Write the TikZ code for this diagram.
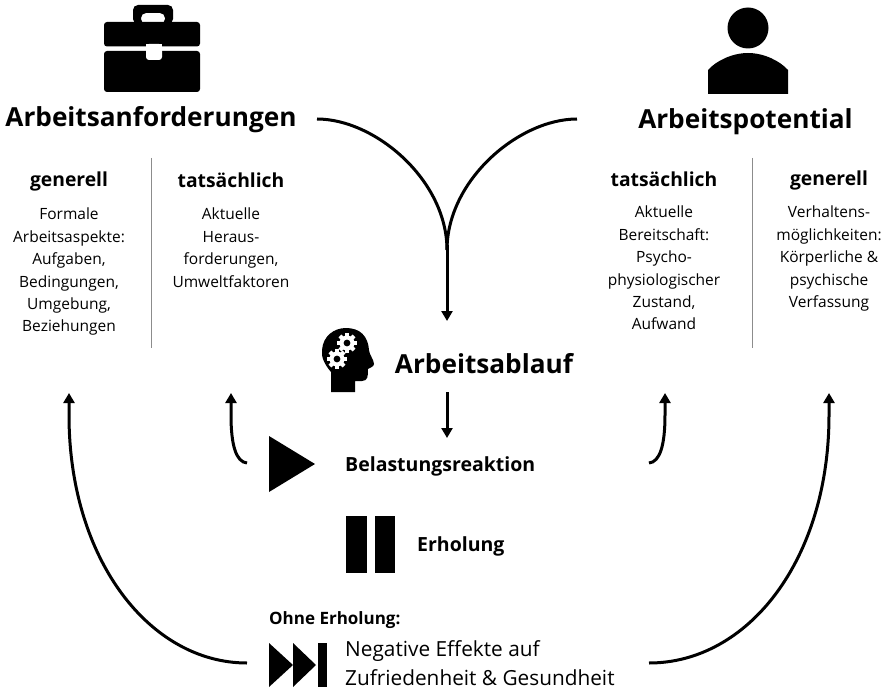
\documentclass[tikz,border=0pt]{standalone}
\usepackage{fontspec}
\setmainfont{Open Sans}
\usetikzlibrary{arrows.meta}
\tikzset{
 title/.style={font=\fontsize{26.2}{30}\selectfont\bfseries,inner sep=0pt,anchor=center},
 sub/.style={font=\fontsize{19.3}{22}\selectfont\bfseries,inner sep=0pt,anchor=center},
 stage/.style={font=\fontsize{19.5}{22}\selectfont\bfseries,inner sep=0pt,anchor=west},
 body/.style={font=\fontsize{15.5}{22.4}\selectfont,align=center,inner sep=0pt,anchor=north},
 wire/.style={line width=3pt},
 conn/.style={line width=3pt,-{Triangle[length=10pt,width=11pt]}},
 sep/.style={draw=black!45,line width=0.8pt},
 icon/.style={fill=black,draw=none}
}
\begin{document}
\begin{tikzpicture}[x=1pt,y=-1pt]
\useasboundingbox (0,0) rectangle (892,690);
% briefcase
\fill[icon,even odd rule,rounded corners=5pt] (133,24) -- (133,5) -- (173,5) -- (173,24) -- cycle (141,13) -- (141,24) -- (165,24) -- (165,13) -- cycle;
\fill[icon,rounded corners=3pt] (104,22) rectangle (200,46.5);
\fill[icon,rounded corners=3pt] (104,51) rectangle (200,92);
\fill[white,rounded corners=3pt] (146,44) rectangle (162,60);
\fill[white] (146,44) rectangle (162,50);
% person
\fill[icon] (748,28) circle (20.5);
\fill[icon] (708,94) -- (708,70) .. controls (716,61) and (732,53) .. (748,53) .. controls (764,53) and (780,61) .. (788,70) -- (788,94) -- cycle;
% head
\fill[icon] (331,392) -- (331,372) .. controls (324,364) and (321,356) .. (322,350) .. controls (323,336) and (334,328) .. (346,328) .. controls (360,328) and (368,336) .. (369,350) .. controls (369,354) and (374,360) .. (374,364) .. controls (374,367) and (369,368) .. (368,369) .. controls (368,376) and (368,381) .. (362,381) -- (355,381) -- (355,392) -- cycle;
\foreach \cx/\cy/\r in {347/343/7.5,337/359/7.5}{
  \fill[white] (\cx,\cy) circle (\r);
  \foreach \a in {0,45,...,315}
    \fill[white,rotate around={\a:(\cx,\cy)}] (\cx-2,\cy-10) rectangle (\cx+2,\cy-6);
  \fill[icon] (\cx,\cy) circle (3.4);
}
% play, pause, forward
\fill[icon] (269,436) -- (315,464) -- (269,492) -- cycle;
\fill[icon] (346,516) rectangle (367,573);
\fill[icon] (375,516) rectangle (395,573);
\fill[icon] (269,643) -- (293,665) -- (269,687) -- cycle;
\fill[icon] (293,643) -- (316,665) -- (293,687) -- cycle;
\fill[icon] (318,643) rectangle (327,687);
% titles
\node[title] (anf) at (151,120) {Arbeitsanforderungen};
\node[title] (pot) at (745.5,122) {Arbeitspotential};
\node[title] (ablauf) at (484,364) {Arbeitsablauf};
% columns
\node[sub] (g1) at (69,181) {generell};
\node[sub] (t1) at (231,180) {tatsächlich};
\node[sub] (t2) at (664,179) {tatsächlich};
\node[sub] (g2) at (829,180) {generell};
\node[body] (b1) at (69,208) {Formale\\Arbeitsaspekte:\\Aufgaben,\\Bedingungen,\\Umgebung,\\Beziehungen};
\node[body] (b2) at (231,208) {Aktuelle\\Heraus-\\forderungen,\\Umweltfaktoren};
\node[body] (b3) at (664,206) {Aktuelle\\Bereitschaft:\\Psycho-\\physiologischer\\Zustand,\\Aufwand};
\node[body] (b4) at (829,206) {Verhaltens-\\möglichkeiten:\\Körperliche \&\\psychische\\Verfassung};
\draw[sep] (151,158) -- (151,348);
\draw[sep] (752,158) -- (752,348);
% stages
\node[stage] (bel) at (345,466) {Belastungsreaktion};
\node[stage] (erh) at (417,546) {Erholung};
\node[stage,font=\fontsize{17}{21}\selectfont\bfseries] (ohne) at (269,620) {Ohne Erholung:};
\node[font=\fontsize{20.8}{28.5}\selectfont,align=left,inner sep=0pt,anchor=west] (neg) at (345,663) {Negative Effekte auf\\Zufriedenheit \& Gesundheit};
% anchors
\coordinate (cl) at (317,119);
\coordinate (cr) at (577,119);
\coordinate (top) at (447,321);
\coordinate (a1) at (447,392);
\coordinate (a2) at (447,438);
\coordinate (s1) at (247,463);
\coordinate (e1) at (231,393);
\coordinate (s2) at (649,463);
\coordinate (e2) at (665,393);
\coordinate (s3) at (247,663);
\coordinate (e3) at (69,393);
\coordinate (s4) at (649,663);
\coordinate (e4) at (829,393);
% connectors
\draw[wire] (cl) .. controls (375,119) and (447,180) .. (447,250);
\draw[wire] (cr) .. controls (519,119) and (447,180) .. (447,250);
\draw[conn] (447,245) -- (top);
\draw[conn] (a1) -- (a2);
\draw[conn] (s1) .. controls (236,462) and (231,445) .. (231,415) -- (e1);
\draw[conn] (s2) .. controls (660,462) and (665,445) .. (665,415) -- (e2);
\draw[conn] (s3) .. controls (150,663) and (69,560) .. (69,415) -- (e3);
\draw[conn] (s4) .. controls (748,663) and (829,560) .. (829,415) -- (e4);
\end{tikzpicture}
\end{document}
